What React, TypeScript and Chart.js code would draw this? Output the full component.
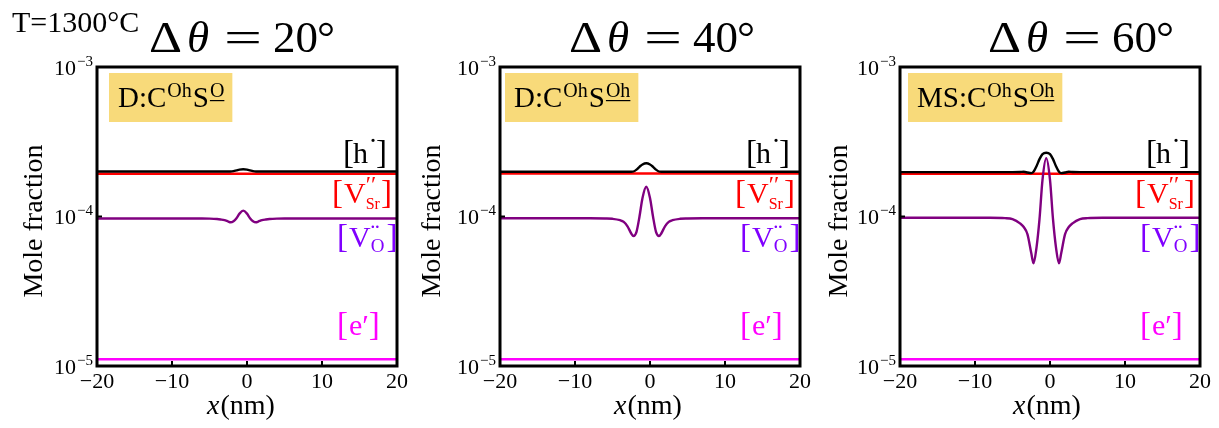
import { useEffect, useRef } from "react";
import { Chart, registerables } from "chart.js";

Chart.register(...registerables);

// ---------- data ----------
const X_NM = [-20, -8, -6, -5, -4, -3.5, -3, -2.5, -2.2, -1.8, -1.4, -1, -0.5, 0, 0.4, 0.8, 1.2, 1.5, 2, 2.5, 3, 4, 5, 7, 20];
const X_TICKS = [-20, -10, 0, 10, 20];
const Y_TICK_EXPONENTS = [-3, -4, -5];
const TITLE_ANGLES = ["20", "40", "60"];
const ANNOT_PREFIX = ["D", "D", "MS"];
const ANNOT_SUP_C = ["Oh", "Oh", "Oh"];
const ANNOT_SUP_S = ["O", "Oh", "Oh"];
const TEMPERATURE = "T=1300°C";
const Y_TITLE = "Mole fraction";

// Δθ = 20°
const H_20 = [2.0e-4, 2.0e-4, 2.0e-4, 2.0e-4, 2.0e-4, 2.0e-4, 2.0e-4, 2.0e-4, 2.0e-4, 2.01e-4, 2.035e-4, 2.06e-4, 2.07e-4, 2.06e-4, 2.035e-4, 2.01e-4, 2.0e-4, 2.0e-4, 2.0e-4, 2.0e-4, 2.0e-4, 2.0e-4, 2.0e-4, 2.0e-4, 2.0e-4];
const VSR_20 = [1.93e-4, 1.93e-4, 1.93e-4, 1.93e-4, 1.93e-4, 1.93e-4, 1.93e-4, 1.93e-4, 1.93e-4, 1.93e-4, 1.93e-4, 1.93e-4, 1.93e-4, 1.93e-4, 1.93e-4, 1.93e-4, 1.93e-4, 1.93e-4, 1.93e-4, 1.93e-4, 1.93e-4, 1.93e-4, 1.93e-4, 1.93e-4, 1.93e-4];
const VO_20 = [9.7e-5, 9.7e-5, 9.7e-5, 9.68e-5, 9.62e-5, 9.55e-5, 9.45e-5, 9.25e-5, 9.15e-5, 9.3e-5, 9.75e-5, 1.045e-4, 1.094e-4, 1.045e-4, 9.75e-5, 9.3e-5, 9.15e-5, 9.25e-5, 9.45e-5, 9.55e-5, 9.62e-5, 9.68e-5, 9.7e-5, 9.7e-5, 9.7e-5];
const E_20 = [1.11e-5, 1.11e-5, 1.11e-5, 1.11e-5, 1.11e-5, 1.11e-5, 1.11e-5, 1.11e-5, 1.11e-5, 1.11e-5, 1.11e-5, 1.11e-5, 1.11e-5, 1.11e-5, 1.11e-5, 1.11e-5, 1.11e-5, 1.11e-5, 1.11e-5, 1.11e-5, 1.11e-5, 1.11e-5, 1.11e-5, 1.11e-5, 1.11e-5];

// Δθ = 40°
const H_40 = [1.99e-4, 1.99e-4, 1.99e-4, 1.99e-4, 1.99e-4, 1.99e-4, 1.99e-4, 1.99e-4, 2.0e-4, 2.06e-4, 2.15e-4, 2.23e-4, 2.27e-4, 2.23e-4, 2.15e-4, 2.06e-4, 2.0e-4, 1.99e-4, 1.99e-4, 1.99e-4, 1.99e-4, 1.99e-4, 1.99e-4, 1.99e-4, 1.99e-4];
const VSR_40 = [1.94e-4, 1.94e-4, 1.94e-4, 1.94e-4, 1.94e-4, 1.94e-4, 1.94e-4, 1.94e-4, 1.94e-4, 1.94e-4, 1.94e-4, 1.94e-4, 1.94e-4, 1.94e-4, 1.94e-4, 1.94e-4, 1.94e-4, 1.94e-4, 1.94e-4, 1.94e-4, 1.94e-4, 1.94e-4, 1.94e-4, 1.94e-4, 1.94e-4];
const VO_40 = [9.73e-5, 9.73e-5, 9.7e-5, 9.65e-5, 9.45e-5, 9.2e-5, 8.6e-5, 7.7e-5, 7.4e-5, 7.9e-5, 1.0e-4, 1.33e-4, 1.58e-4, 1.33e-4, 1.0e-4, 7.9e-5, 7.4e-5, 7.7e-5, 8.6e-5, 9.2e-5, 9.45e-5, 9.65e-5, 9.7e-5, 9.73e-5, 9.73e-5];
const E_40 = [1.11e-5, 1.11e-5, 1.11e-5, 1.11e-5, 1.11e-5, 1.11e-5, 1.11e-5, 1.11e-5, 1.11e-5, 1.11e-5, 1.11e-5, 1.11e-5, 1.11e-5, 1.11e-5, 1.11e-5, 1.11e-5, 1.11e-5, 1.11e-5, 1.11e-5, 1.11e-5, 1.11e-5, 1.11e-5, 1.11e-5, 1.11e-5, 1.11e-5];

// Δθ = 60°
const H_60 = [1.98e-4, 1.98e-4, 1.98e-4, 1.98e-4, 1.985e-4, 1.99e-4, 1.97e-4, 1.95e-4, 1.99e-4, 2.17e-4, 2.42e-4, 2.61e-4, 2.67e-4, 2.61e-4, 2.42e-4, 2.17e-4, 1.99e-4, 1.95e-4, 1.97e-4, 1.99e-4, 1.985e-4, 1.98e-4, 1.98e-4, 1.98e-4, 1.98e-4];
const VSR_60 = [1.93e-4, 1.93e-4, 1.93e-4, 1.93e-4, 1.93e-4, 1.93e-4, 1.93e-4, 1.93e-4, 1.93e-4, 1.93e-4, 1.93e-4, 1.93e-4, 1.93e-4, 1.93e-4, 1.93e-4, 1.93e-4, 1.93e-4, 1.93e-4, 1.93e-4, 1.93e-4, 1.93e-4, 1.93e-4, 1.93e-4, 1.93e-4, 1.93e-4];
const VO_60 = [9.8e-5, 9.8e-5, 9.75e-5, 9.6e-5, 9.0e-5, 8.5e-5, 7.6e-5, 5.7e-5, 4.86e-5, 6.2e-5, 9.6e-5, 1.76e-4, 2.45e-4, 1.76e-4, 9.6e-5, 6.2e-5, 4.86e-5, 5.7e-5, 7.6e-5, 8.5e-5, 9.0e-5, 9.6e-5, 9.75e-5, 9.8e-5, 9.8e-5];
const E_60 = [1.11e-5, 1.11e-5, 1.11e-5, 1.11e-5, 1.11e-5, 1.11e-5, 1.11e-5, 1.11e-5, 1.11e-5, 1.11e-5, 1.11e-5, 1.11e-5, 1.11e-5, 1.11e-5, 1.11e-5, 1.11e-5, 1.11e-5, 1.11e-5, 1.11e-5, 1.11e-5, 1.11e-5, 1.11e-5, 1.11e-5, 1.11e-5, 1.11e-5];

const SERIES = [
  { h: H_20, vsr: VSR_20, vo: VO_20, e: E_20 },
  { h: H_40, vsr: VSR_40, vo: VO_40, e: E_40 },
  { h: H_60, vsr: VSR_60, vo: VO_60, e: E_60 },
];

// ---------- layout / style ----------
const W = 1219;
const H = 428;
const PLOT_TOP = 67;
const PLOT_BOTTOM = 366;
const PANELS = [
  { left: 0, width: 420, plotLeft: 97, titleX: 149, annotX: 109, yTitleX: 42, xTitleC: 241 },
  { left: 405, width: 415, plotLeft: 95, titleX: 164, annotX: 100, yTitleX: 35, xTitleC: 243 },
  { left: 805, width: 414, plotLeft: 95, titleX: 183, annotX: 103, yTitleX: 42, xTitleC: 242 },
];
const PLOT_W = 300;
const SERIF = '"Liberation Serif", "Times New Roman", serif';
const C_H = "#000000";
const C_VSR = "#ff0000";
const C_VO_LINE = "#800080";
const C_VO_LABEL = "#8000ff";
const C_E = "#ff00ff";
const C_ANNOT = "#f8da7a";

type Seg = { t: string; f: string; dy?: number; dx?: number; stay?: boolean; u?: boolean; c?: string; fit?: number };

function drawSeq(ctx: CanvasRenderingContext2D, x0: number, y: number, segs: Seg[], color: string, measureOnly = false): number {
  let x = x0;
  let maxRight = x0;
  for (const s of segs) {
    ctx.font = s.f;
    if (s.dx) x += s.dx;
    const natural = ctx.measureText(s.t).width;
    const w = s.fit ?? natural;
    if (!measureOnly) {
      ctx.fillStyle = s.c ?? color;
      if (s.fit) {
        ctx.save();
        ctx.translate(x, y + (s.dy ?? 0));
        ctx.scale(s.fit / natural, 1);
        ctx.fillText(s.t, 0, 0);
        ctx.restore();
      } else {
        ctx.fillText(s.t, x, y + (s.dy ?? 0));
      }
      if (s.u) {
        ctx.fillRect(x, y + (s.dy ?? 0) + 3, w, 1.2);
      }
    }
    maxRight = Math.max(maxRight, x + w);
    if (!s.stay) x += w;
  }
  return Math.max(maxRight, x) - x0;
}

function decorPlugin(i: number) {
  const P = PANELS[i];
  return {
    id: "decor" + i,
    afterDraw(chart: any) {
      const ctx = chart.ctx as CanvasRenderingContext2D;
      const a = chart.chartArea;
      const xs = chart.scales.x;
      const ys = chart.scales.y;
      ctx.save();
      ctx.textAlign = "left";
      ctx.textBaseline = "alphabetic";
      ctx.fillStyle = "#000";
      ctx.strokeStyle = "#000";

      // tick marks (inward)
      ctx.lineWidth = 2;
      for (const t of X_TICKS) {
        const px = xs.getPixelForValue(t);
        ctx.beginPath();
        ctx.moveTo(px, a.bottom);
        ctx.lineTo(px, a.bottom - 5);
        ctx.stroke();
      }
      for (const e of Y_TICK_EXPONENTS) {
        const py = ys.getPixelForValue(Math.pow(10, e));
        ctx.beginPath();
        ctx.moveTo(a.left, py);
        ctx.lineTo(a.left + 5, py);
        ctx.stroke();
      }

      // frame
      ctx.lineWidth = 3;
      ctx.strokeRect(a.left, a.top, a.right - a.left, a.bottom - a.top);

      // y tick labels 10^e
      for (const e of Y_TICK_EXPONENTS) {
        const py = ys.getPixelForValue(Math.pow(10, e));
        const segs: Seg[] = [
          { t: "10", f: `22px ${SERIF}` },
          { t: "\u2212" + Math.abs(e), f: `15px ${SERIF}`, dy: -9, dx: 1 },
        ];
        const w = drawSeq(ctx, 0, 0, segs, "#000", true);
        drawSeq(ctx, a.left - 4 - w, py + 7.5, segs, "#000");
      }

      // y title
      ctx.save();
      ctx.translate(P.yTitleX, 221);
      ctx.rotate(-Math.PI / 2);
      ctx.textAlign = "center";
      ctx.font = `28px ${SERIF}`;
      ctx.fillStyle = "#000";
      ctx.fillText(Y_TITLE, 0, 0);
      ctx.restore();

      // x title  x(nm)
      {
        const segs: Seg[] = [
          { t: "x", f: `italic 28px ${SERIF}` },
          { t: "(nm)", f: `28px ${SERIF}`, dx: 1 },
        ];
        const w = drawSeq(ctx, 0, 0, segs, "#000", true);
        drawSeq(ctx, P.xTitleC - w / 2, 414, segs, "#000");
      }

      // panel title Δθ = N°
      {
        const x0 = P.titleX;
        const base = 52;
        drawSeq(ctx, x0, base, [{ t: "\u0394", f: `45px ${SERIF}`, fit: 33 }], "#000");
        drawSeq(ctx, x0 + 38, base, [{ t: "\u03B8", f: `italic 45px ${SERIF}` }], "#000");
        drawSeq(ctx, x0 + 75, base, [{ t: "=", f: `45px ${SERIF}`, fit: 38 }], "#000");
        drawSeq(ctx, x0 + 124, base, [{ t: TITLE_ANGLES[i], f: `45px ${SERIF}` }], "#000");
        drawSeq(ctx, x0 + 168, base, [{ t: "\u00B0", f: `45px ${SERIF}` }], "#000");
      }

      if (i === 0) {
        ctx.font = `30px ${SERIF}`;
        ctx.fillStyle = "#000";
        ctx.fillText(TEMPERATURE, 12, 32);
      }

      // annotation box
      {
        const segs: Seg[] = [
          { t: ANNOT_PREFIX[i] + ":C", f: `29px ${SERIF}` },
          { t: ANNOT_SUP_C[i], f: `20px ${SERIF}`, dy: -10, dx: 1 },
          { t: "S", f: `29px ${SERIF}`, dx: 1 },
          { t: ANNOT_SUP_S[i], f: `20px ${SERIF}`, dy: -10, dx: 1, u: true },
        ];
        const w = drawSeq(ctx, 0, 0, segs, "#000", true);
        ctx.fillStyle = C_ANNOT;
        ctx.fillRect(P.annotX, 73, w + 17, 49);
        drawSeq(ctx, P.annotX + 9, 107, segs, "#000");
      }

      // curve labels
      const BR = `33px ${SERIF}`;
      const LT = `30px ${SERIF}`;
      drawSeq(ctx, a.right - 54, 163, [
        { t: "[", f: BR },
        { t: "h", f: LT, dx: -1 },
        { t: "\u02D9", f: LT, dy: -4, stay: true },
        { t: "]", f: BR, dx: 8 },
      ], C_H);
      drawSeq(ctx, a.right - 65, 203, [
        { t: "[", f: BR },
        { t: "V", f: LT, dx: 1 },
        { t: "\u2032\u2032", f: `24px ${SERIF}`, dy: -11, stay: true },
        { t: "Sr", f: `16px ${SERIF}`, dy: 6 },
        { t: "]", f: BR, dx: 1 },
      ], C_VSR);
      drawSeq(ctx, a.right - 60, 247, [
        { t: "[", f: BR },
        { t: "V", f: LT, dx: 1 },
        { t: "\u00A8", f: `26px ${SERIF}`, dy: -5, stay: true },
        { t: "O", f: `19px ${SERIF}`, dy: 5 },
        { t: "]", f: BR, dx: 2 },
      ], C_VO_LABEL);
      drawSeq(ctx, a.right - 60, 335, [
        { t: "[", f: BR },
        { t: "e", f: LT, dx: 1 },
        { t: "\u2032", f: LT },
        { t: "]", f: BR, dx: 0 },
      ], C_E);

      ctx.restore();
    },
  };
}

function makeConfig(i: number): any {
  const P = PANELS[i];
  const S = SERIES[i];
  const pts = (arr: number[]) => X_NM.map((x, k) => ({ x, y: arr[k] }));
  const common = { pointRadius: 0, borderWidth: 2.4, fill: false, cubicInterpolationMode: "monotone" };
  return {
    type: "line",
    data: {
      datasets: [
        { ...common, label: "VO", data: pts(S.vo), borderColor: C_VO_LINE, order: 1 },
        { ...common, label: "h", data: pts(S.h), borderColor: C_H, order: 2 },
        { ...common, label: "VSr", data: pts(S.vsr), borderColor: C_VSR, order: 3, borderWidth: 2.6 },
        { ...common, label: "e", data: pts(S.e), borderColor: C_E, order: 4 },
      ],
    },
    options: {
      responsive: false,
      animation: false,
      events: [],
      layout: { padding: { top: PLOT_TOP, right: P.width - P.plotLeft - PLOT_W, bottom: 0, left: 0 } },
      plugins: { legend: { display: false }, tooltip: { enabled: false }, title: { display: false } },
      scales: {
        x: {
          type: "linear",
          min: -20,
          max: 20,
          afterBuildTicks: (s: any) => { s.ticks = X_TICKS.map((v) => ({ value: v })); },
          ticks: {
            color: "#000",
            font: { family: SERIF, size: 22 },
            padding: 3,
            maxRotation: 0,
            autoSkip: false,
            callback: (v: number) => (v < 0 ? "\u2212" + Math.abs(v) : String(v)),
          },
          grid: { display: false, drawTicks: false },
          border: { display: false },
          afterFit: (s: any) => { s.height = H - PLOT_BOTTOM; },
        },
        y: {
          type: "logarithmic",
          min: 1e-5,
          max: 1e-3,
          ticks: { display: false },
          grid: { display: false, drawTicks: false },
          border: { display: false },
          afterFit: (s: any) => { s.width = P.plotLeft; },
        },
      },
    },
    plugins: [decorPlugin(i)],
  };
}

export default function App() {
  const r0 = useRef<HTMLCanvasElement>(null);
  const r1 = useRef<HTMLCanvasElement>(null);
  const r2 = useRef<HTMLCanvasElement>(null);
  const refs = [r0, r1, r2];
  useEffect(() => {
    const charts = refs.map((r, i) => new Chart(r.current as HTMLCanvasElement, makeConfig(i)));
    return () => charts.forEach((c) => c.destroy());
  }, []);
  return (
    <div style={{ position: "absolute", left: 0, top: 0, width: W, height: H, background: "#fff", overflow: "hidden" }}>
      {PANELS.map((P, i) => (
        <canvas
          key={i}
          ref={refs[i]}
          width={P.width}
          height={H}
          style={{ position: "absolute", left: P.left, top: 0, width: P.width, height: H }}
        />
      ))}
    </div>
  );
}
